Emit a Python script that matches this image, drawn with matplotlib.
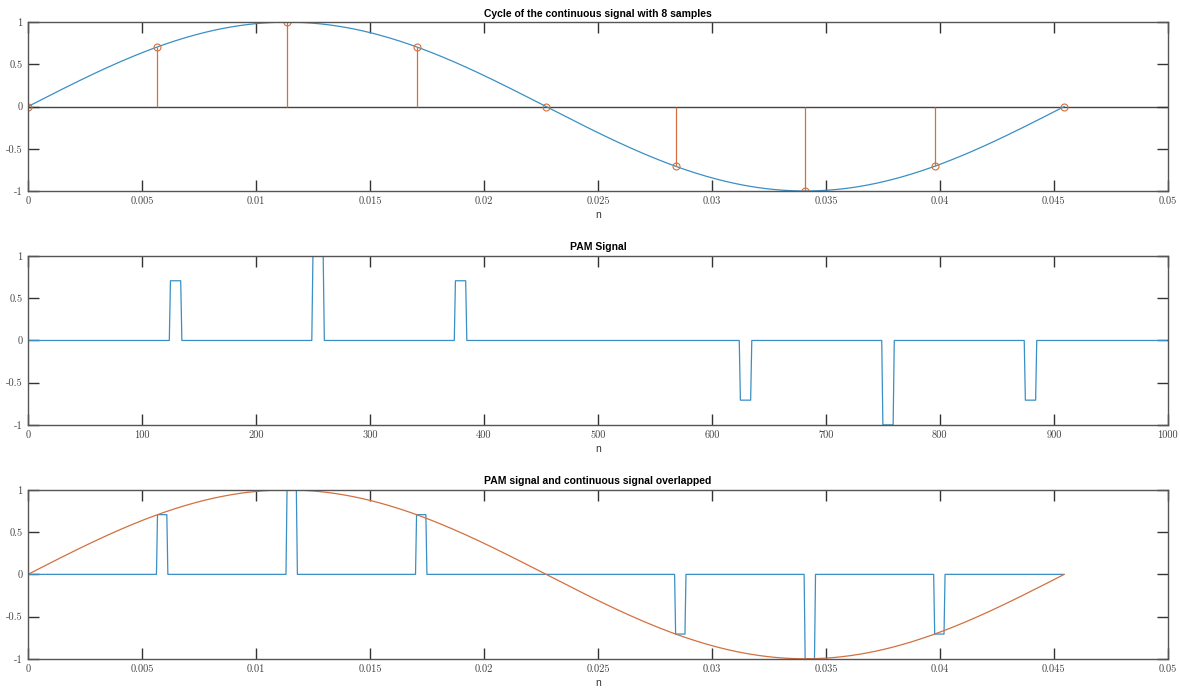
import numpy as np
import matplotlib
matplotlib.use("Agg")
import matplotlib.pyplot as plt

# signal parameters
freq = 22.0                 # Hz, one cycle = 1/22 s
fs = 22000.0                # samples per second of the PAM signal
n_total = 1000              # length of the PAM signal
pulse_width = 10            # samples per pulse
pulse_period = 125          # samples between pulses

# the 8 samples of one cycle (+ the closing one)
sample_values = [0.0, 0.7071, 1.0, 0.7071, 0.0, -0.7071, -1.0, -0.7071, 0.0]

# tick labels
t_ticks = [0, 0.005, 0.01, 0.015, 0.02, 0.025, 0.03, 0.035, 0.04, 0.045, 0.05]
n_ticks = [0, 100, 200, 300, 400, 500, 600, 700, 800, 900, 1000]
y_ticks = [-1, -0.5, 0, 0.5, 1]

blue = "#3a8fc4"
orange = "#d2703f"
frame = "#555555"

plt.rcParams["axes.unicode_minus"] = False


def style_axes(ax, xticks, xlim):
    ax.set_xlim(xlim)
    ax.set_ylim(-1, 1)
    ax.set_xticks(xticks)
    ax.set_yticks(y_ticks)
    ax.set_xticklabels([("%g" % v) for v in xticks], family="cmr10", fontsize=7.5, color="#444444")
    ax.set_yticklabels([("%g" % v) for v in y_ticks], family="cmr10", fontsize=7.5, color="#444444")
    ax.tick_params(direction="in", length=8, width=1.0, color="#333333",
                   top=True, right=True, pad=4)
    for s in ax.spines.values():
        s.set_color(frame)
        s.set_linewidth(1.0)
    ax.set_xlabel("n", family="Liberation Sans", fontsize=7.5, color="#333333", labelpad=3)


def main():
    period = 1.0 / freq
    t_cont = np.linspace(0, period, 500)
    x_cont = np.sin(2 * np.pi * freq * t_cont)
    t_samp = np.arange(len(sample_values)) * period / 8

    # PAM signal
    pam = np.zeros(n_total)
    for k, v in enumerate(sample_values[:8]):
        start = k * pulse_period
        pam[start:start + pulse_width] = v
    n_idx = np.arange(n_total)
    t_pam = np.arange(n_total) / fs

    fig = plt.figure(figsize=(11.8, 6.92), dpi=100)
    left, width, height = 0.0237, 0.966, 0.244
    ax1 = fig.add_axes([left, 0.724, width, height])
    ax2 = fig.add_axes([left, 0.386, width, height])
    ax3 = fig.add_axes([left, 0.048, width, height])

    # top: continuous signal with stems
    ax1.plot(t_cont, x_cont, color=blue, lw=0.9)
    ax1.axhline(0, color="#444444", lw=1.0, zorder=1)
    ax1.vlines(t_samp, 0, sample_values, color=orange, lw=0.9)
    ax1.plot(t_samp, sample_values, "o", mfc="none", mec=orange, ms=5, mew=0.8)
    style_axes(ax1, t_ticks, (0, 0.05))
    ax1.set_title("Cycle of the continuous signal with 8 samples",
                  family="Liberation Sans", fontweight="bold", fontsize=7.5, pad=4)

    # middle: PAM signal
    ax2.plot(n_idx, pam, color=blue, lw=0.9)
    style_axes(ax2, n_ticks, (0, 1000))
    ax2.set_title("PAM Signal", family="Liberation Sans", fontweight="bold", fontsize=7.5, pad=4)

    # bottom: both overlapped
    ax3.plot(t_pam, pam, color=blue, lw=0.9)
    ax3.plot(t_cont, x_cont, color=orange, lw=0.9)
    style_axes(ax3, t_ticks, (0, 0.05))
    ax3.set_title("PAM signal and continuous signal overlapped",
                  family="Liberation Sans", fontweight="bold", fontsize=7.5, pad=4)

    fig.savefig("out.png", dpi=100)


if __name__ == "__main__":
    main()
